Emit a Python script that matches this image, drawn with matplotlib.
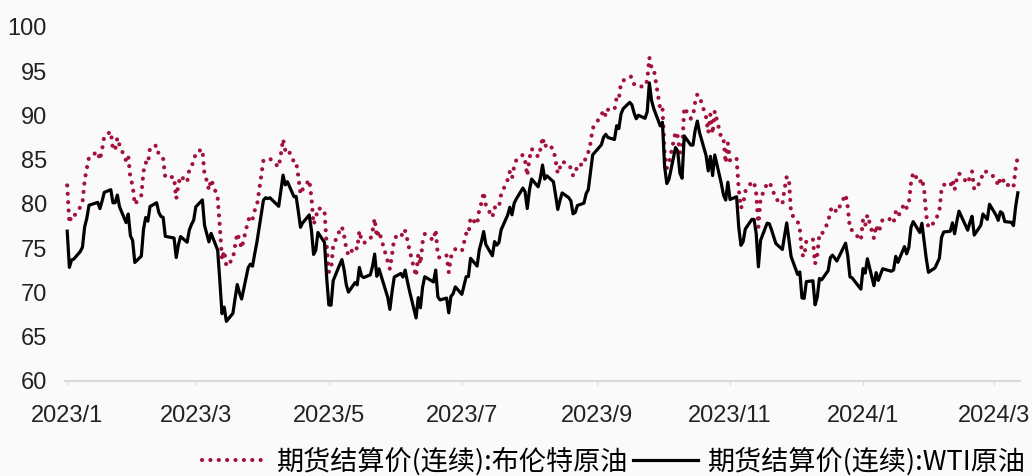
import matplotlib
matplotlib.use("Agg")
import matplotlib.pyplot as plt
import pandas as pd

# trading days per month (common calendar for both series)
days_by_month = {
    "2023-01": [3, 4, 5, 6, 9, 10, 11, 12, 13, 17, 18, 19, 20, 23, 24, 25, 26, 27, 30, 31],
    "2023-02": [1, 2, 3, 6, 7, 8, 9, 10, 13, 14, 15, 16, 17, 21, 22, 23, 24, 27, 28],
    "2023-03": [1, 2, 3, 6, 7, 8, 9, 10, 13, 14, 15, 16, 17, 20, 21, 22, 23, 24, 27, 28, 29, 30, 31],
    "2023-04": [3, 4, 5, 6, 10, 11, 12, 13, 14, 17, 18, 19, 20, 21, 24, 25, 26, 27, 28],
    "2023-05": [1, 2, 3, 4, 5, 8, 9, 10, 11, 12, 15, 16, 17, 18, 19, 22, 23, 24, 25, 26, 30, 31],
    "2023-06": [1, 2, 5, 6, 7, 8, 9, 12, 13, 14, 15, 16, 20, 21, 22, 23, 26, 27, 28, 29, 30],
    "2023-07": [3, 5, 6, 7, 10, 11, 12, 13, 14, 17, 18, 19, 20, 21, 24, 25, 26, 27, 28, 31],
    "2023-08": [1, 2, 3, 4, 7, 8, 9, 10, 11, 14, 15, 16, 17, 18, 21, 22, 23, 24, 25, 28, 29, 30, 31],
    "2023-09": [1, 5, 6, 7, 8, 11, 12, 13, 14, 15, 18, 19, 20, 21, 22, 25, 26, 27, 28, 29],
    "2023-10": [2, 3, 4, 5, 6, 9, 10, 11, 12, 13, 16, 17, 18, 19, 20, 23, 24, 25, 26, 27, 30, 31],
    "2023-11": [1, 2, 3, 6, 7, 8, 9, 10, 13, 14, 15, 16, 17, 20, 21, 22, 24, 27, 28, 29, 30],
    "2023-12": [1, 4, 5, 6, 7, 8, 11, 12, 13, 14, 15, 18, 19, 20, 21, 22, 26, 27, 28, 29],
    "2024-01": [2, 3, 4, 5, 8, 9, 10, 11, 12, 16, 17, 18, 19, 22, 23, 24, 25, 26, 29, 30, 31],
    "2024-02": [1, 2, 5, 6, 7, 8, 9, 12, 13, 14, 15, 16, 20, 21, 22, 23, 26, 27, 28, 29],
    "2024-03": [1, 4, 5, 6, 7, 8, 11, 12, 13, 14],
}

brent = [
    82.10, 77.84, 78.69, 78.57, 79.65, 80.10, 82.67, 84.03, 85.28, 85.92, 84.98, 86.16, 87.63, 88.19, 86.13, 86.12, 87.47, 86.66, 84.90, 85.46,
    82.84, 82.17, 79.94, 80.99, 83.69, 84.69, 84.50, 86.39, 86.61, 85.58, 85.38, 85.14, 83.00, 83.05, 80.60, 82.21, 83.16, 82.45, 83.89,
    84.31, 84.75, 85.83, 86.18, 83.29, 82.66, 81.59, 82.78, 80.77, 77.45, 73.69, 74.70, 72.97, 73.79, 75.32, 76.69, 75.91, 74.99, 78.12, 78.65, 78.28, 79.27, 79.77,
    84.93, 84.94, 84.99, 85.12, 84.18, 85.61, 87.33, 86.09, 86.31, 84.76, 84.77, 83.12, 81.10, 81.66, 82.73, 80.77, 77.69, 78.37, 79.54,
    79.31, 75.32, 72.33, 72.50, 75.30, 77.01, 77.44, 76.41, 74.98, 74.17, 75.23, 74.91, 76.96, 75.86, 75.58, 75.99, 76.84, 78.36, 76.26, 76.95, 73.54, 72.66,
    74.28, 76.13, 76.71, 76.29, 76.95, 75.96, 74.79, 71.84, 74.29, 73.20, 75.67, 76.61, 75.90, 77.12, 74.14, 73.85, 74.18, 72.26, 74.03, 74.34, 74.90,
    74.65, 76.65, 76.52, 78.47, 77.69, 79.40, 80.11, 81.36, 79.87, 78.50, 79.63, 79.46, 79.64, 81.07, 82.74, 83.64, 82.92, 84.24, 84.99, 85.56,
    84.91, 83.20, 85.14, 86.24, 85.34, 86.17, 87.55, 86.40, 86.81, 86.21, 84.89, 83.45, 84.12, 84.80, 84.46, 84.03, 83.21, 83.36, 84.48, 84.42, 85.49, 85.86, 86.86,
    88.55, 90.04, 90.60, 89.92, 90.65, 90.64, 92.06, 91.88, 93.70, 93.93, 94.43, 94.34, 93.53, 93.30, 93.27, 93.29, 93.96, 96.55, 95.38, 95.31,
    90.71, 90.92, 85.81, 84.07, 84.58, 88.15, 87.65, 85.82, 86.00, 90.89, 89.65, 89.90, 91.50, 92.38, 92.16, 89.83, 88.07, 90.13, 87.93, 90.48, 87.45, 87.41,
    84.63, 86.85, 84.89, 85.18, 81.61, 79.54, 80.01, 81.43, 82.52, 82.47, 81.18, 77.42, 80.61, 82.32, 82.45, 81.96, 80.58, 79.98, 81.68, 83.10, 82.83,
    78.88, 78.03, 77.20, 74.30, 74.05, 75.84, 76.03, 73.24, 74.26, 76.61, 76.55, 77.95, 79.23, 79.70, 79.39, 79.07, 81.07, 79.65, 77.15, 77.04,
    75.89, 78.25, 77.59, 78.76, 76.12, 77.59, 76.80, 77.41, 78.29, 78.29, 77.88, 79.10, 78.56, 80.06, 79.55, 80.04, 82.43, 83.55, 82.40, 82.87, 81.71,
    78.70, 77.33, 77.99, 78.59, 79.21, 81.63, 82.19, 82.00, 82.77, 81.60, 82.86, 83.47, 82.34, 83.03, 83.67, 81.62, 82.53, 83.65, 83.68, 83.62,
    83.55, 82.80, 82.04, 82.96, 82.96, 82.08, 82.21, 81.92, 84.03, 85.42,
]

wti = [
    76.93, 72.84, 73.67, 73.77, 74.63, 75.12, 77.41, 78.39, 79.86, 80.18, 79.48, 80.33, 81.31, 81.62, 80.13, 80.15, 81.01, 79.68, 77.90, 78.87,
    76.41, 75.88, 73.39, 74.11, 77.14, 78.47, 78.06, 79.72, 80.14, 79.06, 78.59, 78.49, 76.34, 76.16, 73.95, 75.39, 76.32, 75.68, 77.05,
    77.69, 78.16, 79.68, 80.46, 77.58, 76.66, 75.72, 76.68, 74.80, 71.33, 67.61, 68.35, 66.74, 67.64, 69.33, 70.90, 69.96, 69.26, 72.81, 73.20, 72.97, 74.37, 75.67,
    80.42, 80.71, 80.61, 80.70, 79.74, 81.53, 83.26, 82.16, 82.52, 80.83, 80.86, 79.16, 77.37, 77.87, 78.76, 77.07, 74.30, 74.76, 76.78,
    75.66, 71.66, 68.60, 68.56, 71.34, 73.16, 73.71, 72.56, 70.87, 70.04, 71.11, 70.86, 72.83, 71.86, 71.69, 71.99, 72.91, 74.34, 71.83, 72.67, 69.46, 68.09,
    70.10, 71.74, 72.15, 71.74, 72.53, 71.29, 70.17, 67.12, 69.42, 68.27, 70.62, 71.78, 71.19, 72.53, 69.51, 69.16, 69.37, 67.70, 69.56, 69.86, 70.64,
    69.79, 71.79, 71.80, 73.86, 72.99, 74.83, 75.75, 76.89, 75.42, 74.15, 75.75, 75.35, 75.63, 77.07, 78.74, 79.63, 78.78, 80.09, 80.58, 81.80,
    81.37, 79.49, 81.55, 82.82, 81.94, 82.92, 84.40, 82.82, 83.19, 82.51, 80.99, 79.38, 80.39, 81.25, 80.72, 80.35, 78.89, 79.05, 79.83, 80.10, 81.16, 81.63, 83.63,
    85.55, 86.69, 87.54, 87.87, 87.51, 87.29, 88.84, 88.52, 90.16, 90.77, 91.48, 91.20, 90.28, 89.63, 90.03, 89.68, 90.39, 93.68, 91.71, 90.79,
    88.82, 89.23, 84.22, 82.31, 82.79, 86.38, 85.97, 83.49, 82.91, 87.69, 86.66, 86.66, 88.32, 89.37, 88.08, 85.49, 83.74, 85.39, 83.21, 85.54, 82.31, 81.02,
    80.44, 82.46, 80.51, 80.82, 77.37, 75.33, 75.74, 77.17, 78.26, 78.26, 76.66, 72.90, 75.89, 77.83, 77.77, 77.10, 75.54, 74.86, 76.41, 77.86, 75.96,
    74.07, 72.04, 72.32, 69.38, 69.34, 71.23, 71.32, 68.61, 69.47, 71.58, 71.43, 72.47, 73.94, 74.22, 73.89, 73.56, 75.57, 74.11, 71.77, 71.65,
    70.38, 72.70, 72.19, 73.81, 70.77, 72.24, 71.37, 72.02, 72.68, 72.40, 72.56, 74.08, 73.41, 75.19, 74.37, 75.09, 77.36, 78.01, 76.78, 77.82, 75.85,
    73.82, 72.28, 72.78, 73.31, 73.86, 76.22, 76.84, 76.92, 77.87, 76.64, 78.03, 79.19, 77.04, 77.91, 78.61, 76.49, 77.58, 78.87, 78.54, 78.26,
    79.97, 78.74, 78.15, 79.13, 78.93, 78.01, 77.93, 77.56, 79.72, 81.26,
]

tick_dates = ["2023-01-03", "2023-03-03", "2023-05-03", "2023-07-03", "2023-09-03",
              "2023-11-03", "2024-01-03", "2024-03-03"]
tick_labels = ["2023/1", "2023/3", "2023/5", "2023/7", "2023/9", "2023/11", "2024/1", "2024/3"]

label_brent = "期货结算价(连续):布伦特原油"
label_wti = "期货结算价(连续):WTI原油"

dates = pd.to_datetime([f"{m}-{d:02d}" for m, ds in days_by_month.items() for d in ds])

plt.rcParams['font.family'] = ['Liberation Sans', 'Noto Sans CJK SC', 'DejaVu Sans']

bg = "#fafafa"
fig = plt.figure(figsize=(10.32, 4.76), dpi=100, facecolor=bg)
ax = fig.add_axes([0.063, 0.1996, 0.9254, 0.7437], facecolor=bg)

# Brent: round dots, WTI: solid black
ax.plot(dates, brent, color="#a3123a", linewidth=3.0, dashes=(0.01, 2.0),
        dash_capstyle="round", label=label_brent)
ax.plot(dates, wti, color="black", linewidth=2.3, label=label_wti)

ax.set_ylim(60, 100)
ax.set_yticks(range(60, 101, 5))
ax.set_xlim(pd.Timestamp("2023-01-02"), pd.Timestamp("2024-03-15"))
ax.set_xticks(pd.to_datetime(tick_dates))
ax.set_xticklabels(tick_labels)

for s in ["top", "right", "left"]:
    ax.spines[s].set_visible(False)
ax.spines["bottom"].set_color("#d9d9d9")
ax.spines["bottom"].set_linewidth(1.5)
ax.tick_params(axis="y", length=0, pad=13, labelsize=17, labelcolor="#222222")
ax.tick_params(axis="x", length=3, color="#d9d9d9", pad=14, labelsize=17, labelcolor="#222222")

leg = fig.legend(loc="center", bbox_to_anchor=(0.595, 0.03), ncol=2, frameon=False,
                 prop={"family": ["Noto Sans CJK SC", "DejaVu Sans"], "size": 19.5},
                 handlelength=2.4, handletextpad=0.35, columnspacing=0.2)

fig.savefig("out.png", dpi=100, facecolor=bg)
